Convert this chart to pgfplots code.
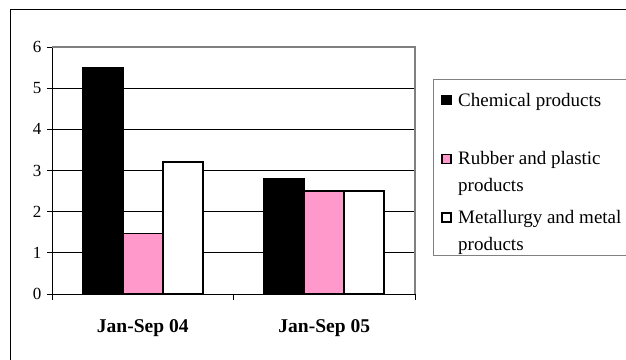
\documentclass[border=0pt]{standalone}
\usepackage{fontspec}
\setmainfont{Liberation Serif}
\usepackage{pgfplots}
\pgfplotsset{compat=1.18}
\definecolor{pinkbar}{HTML}{FF99CC}
\pgfplotstableread{
x chem rubber metal
0 5.5 1.47 3.2
1 2.8 2.5 2.5
}\datatable
\begin{document}
\begin{tikzpicture}[x=1pt,y=1pt]
\useasboundingbox (0,0) rectangle (626,359);
\draw[black, line width=1pt] (10,-20) -- (10,349) -- (660,349);
\begin{axis}[
  at={(52pt,65pt)}, anchor=south west,
  scale only axis, width=363pt, height=247pt,
  xmin=-0.5, xmax=1.5, ymin=0, ymax=6,
  ybar=0pt, bar width=40pt,
  axis x line*=bottom, axis y line*=left,
  axis line style={black, line width=1pt},
  xtick={0,1}, xticklabels={Jan-Sep 04, Jan-Sep 05},
  minor xtick={-0.5,0.5,1.5},
  major x tick style={draw=none},
  minor x tick style={black, line width=1pt},
  minor tick length=6pt,
  ytick={0,1,2,3,4,5,6},
  major tick length=5pt,
  tick align=outside,
  y tick style={black, line width=1pt},
  ymajorgrids, grid style={black, line width=0.8pt},
  /pgf/number format/assume math mode=true,
  yticklabel style={font=\fontsize{17}{20}\selectfont, xshift=-2pt},
  xticklabel style={font=\fontsize{19.5}{22}\selectfont\bfseries, yshift=-17pt},
  legend style={at={(axis description cs:1.0496,0.870)}, anchor=north west,
    draw=gray, line width=0.8pt, inner xsep=8pt, inner ysep=3.5pt,
    font=\fontsize{19}{26.7}\selectfont, row sep=17.5pt, column sep=6pt,
    nodes={inner sep=0pt, anchor=base west}},
  legend image code/.code={\draw[#1, line width=1.8pt] (0.9pt,28.2pt) rectangle (9.9pt,37.2pt);},
  after end axis/.code={\draw[gray, line width=1.2pt] (rel axis cs:0,1) -- (rel axis cs:1,1) -- (rel axis cs:1,0);},
]
\addplot[draw=black, fill=black, line width=1.8pt] table[x=x, y=chem] {\datatable};
\addplot[draw=black, fill=pinkbar, line width=1.8pt] table[x=x, y=rubber] {\datatable};
\addplot[draw=black, fill=white, line width=1.8pt] table[x=x, y=metal] {\datatable};
\addlegendentry{\parbox[b]{190pt}{\rule{0pt}{23pt}Chemical products\\\vphantom{p}}}
\addlegendentry{\parbox[b]{190pt}{Rubber and plastic\\products}}
\addlegendentry{\parbox[b]{190pt}{Metallurgy and metal\\products}}
\end{axis}
\end{tikzpicture}
\end{document}
